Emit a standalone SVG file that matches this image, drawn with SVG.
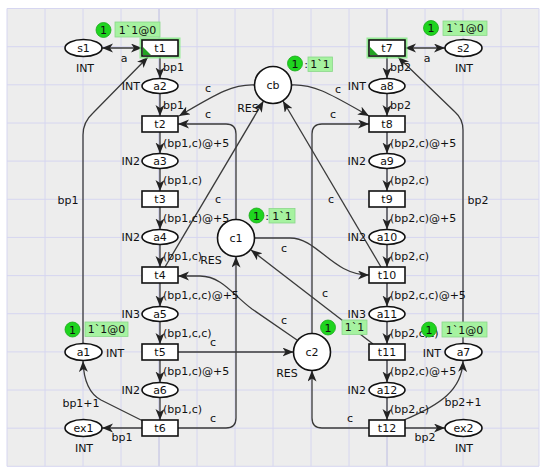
<svg xmlns="http://www.w3.org/2000/svg" width="550" height="473" viewBox="0 0 550 473">
<style>
text{font-family:"DejaVu Sans","Liberation Sans",sans-serif;font-size:11px;fill:#111}
.mid{text-anchor:middle}
.end{text-anchor:end}
.grid line{stroke:#d6d6f0;stroke-width:1}
.grid line.dk{stroke:#bcbce2}
.tr{fill:#fff;stroke:#111;stroke-width:1.6}
.pl{fill:#fff;stroke:#111;stroke-width:1.6}
.arc{fill:none;stroke:#3a3a3a;stroke-width:1.3;marker-end:url(#ah)}
.dbl{marker-start:url(#ah)}
.tkc{fill:#1fd41f;stroke:#19a819;stroke-width:0.8}
.tkb{fill:#a6f2a0;stroke:#8ad88a;stroke-width:0.8}
.glow{fill:none;stroke:#7fea7f;stroke-width:5;opacity:0.8}
</style>
<defs>
<marker id="ah" markerUnits="userSpaceOnUse" markerWidth="12" markerHeight="10" refX="11" refY="4.5" orient="auto-start-reverse">
<path d="M0,0 L11,4.5 L0,9 L3,4.5 z" fill="#222"/>
</marker>
</defs>
<rect x="0" y="0" width="550" height="473" fill="#fff"/>
<rect x="7" y="8.5" width="532" height="457.8" fill="#ededed"/>
<g class="grid">
<line x1="7" y1="8.5" x2="7" y2="466.3"/><line x1="45" y1="8.5" x2="45" y2="466.3"/><line x1="83" y1="8.5" x2="83" y2="466.3"/><line x1="121" y1="8.5" x2="121" y2="466.3"/><line class="dk" x1="159" y1="8.5" x2="159" y2="466.3"/><line x1="197" y1="8.5" x2="197" y2="466.3"/><line x1="235" y1="8.5" x2="235" y2="466.3"/><line x1="273" y1="8.5" x2="273" y2="466.3"/><line x1="311" y1="8.5" x2="311" y2="466.3"/><line x1="349" y1="8.5" x2="349" y2="466.3"/><line class="dk" x1="387" y1="8.5" x2="387" y2="466.3"/><line x1="425" y1="8.5" x2="425" y2="466.3"/><line x1="463" y1="8.5" x2="463" y2="466.3"/><line x1="501" y1="8.5" x2="501" y2="466.3"/><line x1="539" y1="8.5" x2="539" y2="466.3"/>
<line x1="7" y1="8.5" x2="539" y2="8.5"/><line x1="7" y1="46.7" x2="539" y2="46.7"/><line x1="7" y1="84.8" x2="539" y2="84.8"/><line x1="7" y1="123" x2="539" y2="123"/><line x1="7" y1="161.1" x2="539" y2="161.1"/><line x1="7" y1="199.3" x2="539" y2="199.3"/><line x1="7" y1="237.4" x2="539" y2="237.4"/><line x1="7" y1="275.6" x2="539" y2="275.6"/><line x1="7" y1="313.7" x2="539" y2="313.7"/><line x1="7" y1="351.9" x2="539" y2="351.9"/><line x1="7" y1="390" x2="539" y2="390"/><line x1="7" y1="428.2" x2="539" y2="428.2"/><line x1="7" y1="466.3" x2="539" y2="466.3"/>
</g>
<g id="connectors">
<path class="arc dbl" d="M102 48 L142 48"/>
<path class="arc" d="M160 56 L160 78.5"/>
<path class="arc" d="M160 93.5 L160 116"/>
<path class="arc" d="M160 132 L160 153.5"/>
<path class="arc" d="M160 168.5 L160 191"/>
<path class="arc" d="M160 207 L160 229.5"/>
<path class="arc" d="M160 244.5 L160 267"/>
<path class="arc" d="M160 283 L160 306.5"/>
<path class="arc" d="M160 321.5 L160 344"/>
<path class="arc" d="M160 360 L160 382.5"/>
<path class="arc" d="M160 397.5 L160 420"/>
<path class="arc" d="M142 428 L102 428"/>
<path class="arc" d="M143 421 L101 400 Q84 391 83 361"/>
<path class="arc" d="M83 343.5 L83 135 Q83 122 93 113 L148 57"/>
<path class="arc" d="M254.5 85 C232 84 215 95 179 116"/>
<path class="arc" d="M236 219.5 L236 134 Q236 124 226 124 L178 124"/>
<path class="arc" d="M165 267 L263.5 101"/>
<path class="arc" d="M254.5 238 L290 238 C318 238 332 275 369 275"/>
<path class="arc" d="M373 344 L251 250"/>
<path class="arc" d="M297 340 L252 309 C234 296 222 276 200 276 L178 276"/>
<path class="arc" d="M178 352 L293.5 352"/>
<path class="arc" d="M178 428 L226 428 Q236 428 236 418 L236 256.5"/>
<path class="arc" d="M369 428 L322 428 Q312 428 312 418 L312 370.5"/>
<path class="arc" d="M312 333.5 L312 134 Q312 124 322 124 L369 124"/>
<path class="arc" d="M291.5 85 C315 84 332 95 369 116"/>
<path class="arc" d="M381 267 L283 101"/>
<path class="arc dbl" d="M405 48 L445 48"/>
<path class="arc" d="M387 56 L387 78.5"/>
<path class="arc" d="M387 93.5 L387 116"/>
<path class="arc" d="M387 132 L387 153.5"/>
<path class="arc" d="M387 168.5 L387 191"/>
<path class="arc" d="M387 207 L387 229.5"/>
<path class="arc" d="M387 244.5 L387 267"/>
<path class="arc" d="M387 283 L387 306.5"/>
<path class="arc" d="M387 321.5 L387 344"/>
<path class="arc" d="M387 360 L387 382.5"/>
<path class="arc" d="M387 397.5 L387 420"/>
<path class="arc" d="M405 428 L445 428"/>
<path class="arc" d="M404 420 C440 405 462 390 463 361"/>
<path class="arc" d="M463 343.5 L463 130 Q463 119 455 112 L398 57"/>
</g>
<g id="arc-labels">
<text x="124" y="62" class="mid">a</text>
<text x="163" y="71">bp1</text>
<text x="163" y="109">bp1</text>
<text x="163" y="147">(bp1,c)@+5</text>
<text x="163" y="184">(bp1,c)</text>
<text x="163" y="222">(bp1,c)@+5</text>
<text x="163" y="260">(bp1,c)</text>
<text x="163" y="299">(bp1,c,c)@+5</text>
<text x="163" y="337">(bp1,c,c)</text>
<text x="163" y="375">(bp1,c)@+5</text>
<text x="163" y="413">(bp1,c)</text>
<text x="122" y="441" class="mid">bp1</text>
<text x="81" y="407" class="mid">bp1+1</text>
<text x="68" y="204" class="mid">bp1</text>
<text x="208" y="92" class="mid">c</text>
<text x="208" y="118" class="mid">c</text>
<text x="218" y="203" class="mid">c</text>
<text x="284" y="252" class="mid">c</text>
<text x="325" y="297" class="mid">c</text>
<text x="284" y="324" class="mid">c</text>
<text x="213" y="346" class="mid">c</text>
<text x="213" y="422" class="mid">c</text>
<text x="350" y="422" class="mid">c</text>
<text x="333" y="118" class="mid">c</text>
<text x="338" y="93" class="mid">c</text>
<text x="331" y="203" class="mid">c</text>
<text x="427" y="62" class="mid">a</text>
<text x="390" y="71">bp2</text>
<text x="390" y="109">bp2</text>
<text x="390" y="147">(bp2,c)@+5</text>
<text x="390" y="184">(bp2,c)</text>
<text x="390" y="222">(bp2,c)@+5</text>
<text x="390" y="260">(bp2,c)</text>
<text x="390" y="299">(bp2,c,c)@+5</text>
<text x="390" y="337">(bp2,c,c)</text>
<text x="390" y="375">(bp2,c)@+5</text>
<text x="390" y="413">(bp2,c)</text>
<text x="425" y="441" class="mid">bp2</text>
<text x="463" y="406" class="mid">bp2+1</text>
<text x="478" y="204" class="mid">bp2</text>
</g>
<g id="s1"><ellipse class="pl" cx="83.5" cy="48" rx="18.5" ry="8.5"/><text x="83.5" y="52" class="mid">s1</text><text x="85" y="72" class="mid">INT</text></g>
<g id="t1"><rect class="glow" x="142" y="40" width="36" height="16"/><rect class="tr" x="142" y="40" width="36" height="16"/><path d="M143 47 L143 55 L151 55 z" fill="#23a323"/><text x="160" y="52" class="mid">t1</text></g>
<g id="a2"><ellipse class="pl" cx="160" cy="86" rx="18" ry="7.5"/><text x="160" y="90" class="mid">a2</text><text x="140" y="90" class="end">INT</text></g>
<g id="t2"><rect class="tr" x="142" y="116" width="36" height="16"/><text x="160" y="128" class="mid">t2</text></g>
<g id="a3"><ellipse class="pl" cx="160" cy="161" rx="18" ry="7.5"/><text x="160" y="165" class="mid">a3</text><text x="140" y="165" class="end">IN2</text></g>
<g id="t3"><rect class="tr" x="142" y="191" width="36" height="16"/><text x="160" y="203" class="mid">t3</text></g>
<g id="a4"><ellipse class="pl" cx="160" cy="237" rx="18" ry="7.5"/><text x="160" y="241" class="mid">a4</text><text x="140" y="241" class="end">IN2</text></g>
<g id="t4"><rect class="tr" x="142" y="267" width="36" height="16"/><text x="160" y="279" class="mid">t4</text></g>
<g id="a5"><ellipse class="pl" cx="160" cy="314" rx="18" ry="7.5"/><text x="160" y="318" class="mid">a5</text><text x="140" y="318" class="end">IN3</text></g>
<g id="t5"><rect class="tr" x="142" y="344" width="36" height="16"/><text x="160" y="356" class="mid">t5</text></g>
<g id="a6"><ellipse class="pl" cx="160" cy="390" rx="18" ry="7.5"/><text x="160" y="394" class="mid">a6</text><text x="140" y="394" class="end">IN2</text></g>
<g id="t6"><rect class="tr" x="142" y="420" width="36" height="16"/><text x="160" y="432" class="mid">t6</text></g>
<g id="a1"><ellipse class="pl" cx="83.5" cy="352" rx="18.5" ry="8.5"/><text x="83.5" y="356" class="mid">a1</text><text x="106" y="357">INT</text></g>
<g id="ex1"><ellipse class="pl" cx="83.5" cy="428" rx="18.5" ry="8.5"/><text x="83.5" y="432" class="mid">ex1</text><text x="84" y="452" class="mid">INT</text></g>
<g id="cb"><circle class="pl" cx="273" cy="85" r="18.5"/><text x="273" y="89" class="mid">cb</text><text x="248" y="112" class="mid">RES</text></g>
<g id="c1"><circle class="pl" cx="236" cy="238" r="18.5"/><text x="236" y="242" class="mid">c1</text><text x="211" y="264" class="mid">RES</text></g>
<g id="c2"><circle class="pl" cx="312" cy="352" r="18.5"/><text x="312" y="356" class="mid">c2</text><text x="287" y="377" class="mid">RES</text></g>
<g id="s2"><ellipse class="pl" cx="463.5" cy="48" rx="18.5" ry="8.5"/><text x="463.5" y="52" class="mid">s2</text><text x="464" y="72" class="mid">INT</text></g>
<g id="t7"><rect class="glow" x="369" y="40" width="36" height="16"/><rect class="tr" x="369" y="40" width="36" height="16"/><path d="M370 47 L370 55 L378 55 z" fill="#23a323"/><text x="387" y="52" class="mid">t7</text></g>
<g id="a8"><ellipse class="pl" cx="387" cy="86" rx="18" ry="7.5"/><text x="387" y="90" class="mid">a8</text><text x="366" y="90" class="end">INT</text></g>
<g id="t8"><rect class="tr" x="369" y="116" width="36" height="16"/><text x="387" y="128" class="mid">t8</text></g>
<g id="a9"><ellipse class="pl" cx="387" cy="161" rx="18" ry="7.5"/><text x="387" y="165" class="mid">a9</text><text x="366" y="165" class="end">IN2</text></g>
<g id="t9"><rect class="tr" x="369" y="191" width="36" height="16"/><text x="387" y="203" class="mid">t9</text></g>
<g id="a10"><ellipse class="pl" cx="387" cy="237" rx="18" ry="7.5"/><text x="387" y="241" class="mid">a10</text><text x="366" y="241" class="end">IN2</text></g>
<g id="t10"><rect class="tr" x="369" y="267" width="36" height="16"/><text x="387" y="279" class="mid">t10</text></g>
<g id="a11"><ellipse class="pl" cx="387" cy="314" rx="18" ry="7.5"/><text x="387" y="318" class="mid">a11</text><text x="366" y="318" class="end">IN3</text></g>
<g id="t11"><rect class="tr" x="369" y="344" width="36" height="16"/><text x="387" y="356" class="mid">t11</text></g>
<g id="a12"><ellipse class="pl" cx="387" cy="390" rx="18" ry="7.5"/><text x="387" y="394" class="mid">a12</text><text x="366" y="394" class="end">IN2</text></g>
<g id="t12"><rect class="tr" x="369" y="420" width="36" height="16"/><text x="387" y="432" class="mid">t12</text></g>
<g id="a7"><ellipse class="pl" cx="463.5" cy="352" rx="18.5" ry="8.5"/><text x="463.5" y="356" class="mid">a7</text><text x="441" y="357" class="end">INT</text></g>
<g id="ex2"><ellipse class="pl" cx="463.5" cy="428" rx="18.5" ry="8.5"/><text x="463.5" y="432" class="mid">ex2</text><text x="464" y="452" class="mid">INT</text></g>
<g id="tokens">
<circle class="tkc" cx="103.5" cy="30" r="7.5"/><text x="103.5" y="34" class="mid">1</text><rect class="tkb" x="115" y="22" width="45" height="15"/><text x="137.5" y="33.5" class="mid">1`1@0</text>
<circle class="tkc" cx="431" cy="28" r="7.5"/><text x="431" y="32" class="mid">1</text><rect class="tkb" x="443" y="21" width="44" height="14.5"/><text x="465" y="32" class="mid">1`1@0</text>
<circle class="tkc" cx="295" cy="63.5" r="7.5"/><text x="295" y="67.5" class="mid">1</text><text x="306" y="68" class="mid">:</text><rect class="tkb" x="308" y="57" width="24.5" height="14.5"/><text x="320" y="68" class="mid">1`1</text>
<circle class="tkc" cx="256.5" cy="215.5" r="7.5"/><text x="256.5" y="219.5" class="mid">1</text><text x="267" y="220" class="mid">:</text><rect class="tkb" x="269" y="208.5" width="26" height="14.5"/><text x="282" y="219.5" class="mid">1`1</text>
<circle class="tkc" cx="328" cy="327.5" r="7.5"/><text x="328" y="331.5" class="mid">1</text><rect class="tkb" x="342" y="320" width="25" height="14.5"/><text x="354.5" y="331" class="mid">1`1</text>
<circle class="tkc" cx="72.5" cy="329.5" r="7.5"/><text x="72.5" y="333.5" class="mid">1</text><rect class="tkb" x="85" y="322" width="43" height="14.5"/><text x="106.5" y="333" class="mid">1`1@0</text>
<circle class="tkc" cx="429" cy="329.5" r="7.5"/><text x="429" y="333.5" class="mid">1</text><rect class="tkb" x="442" y="322" width="45" height="15"/><text x="464.5" y="333.5" class="mid">1`1@0</text>
</g>
</svg>
